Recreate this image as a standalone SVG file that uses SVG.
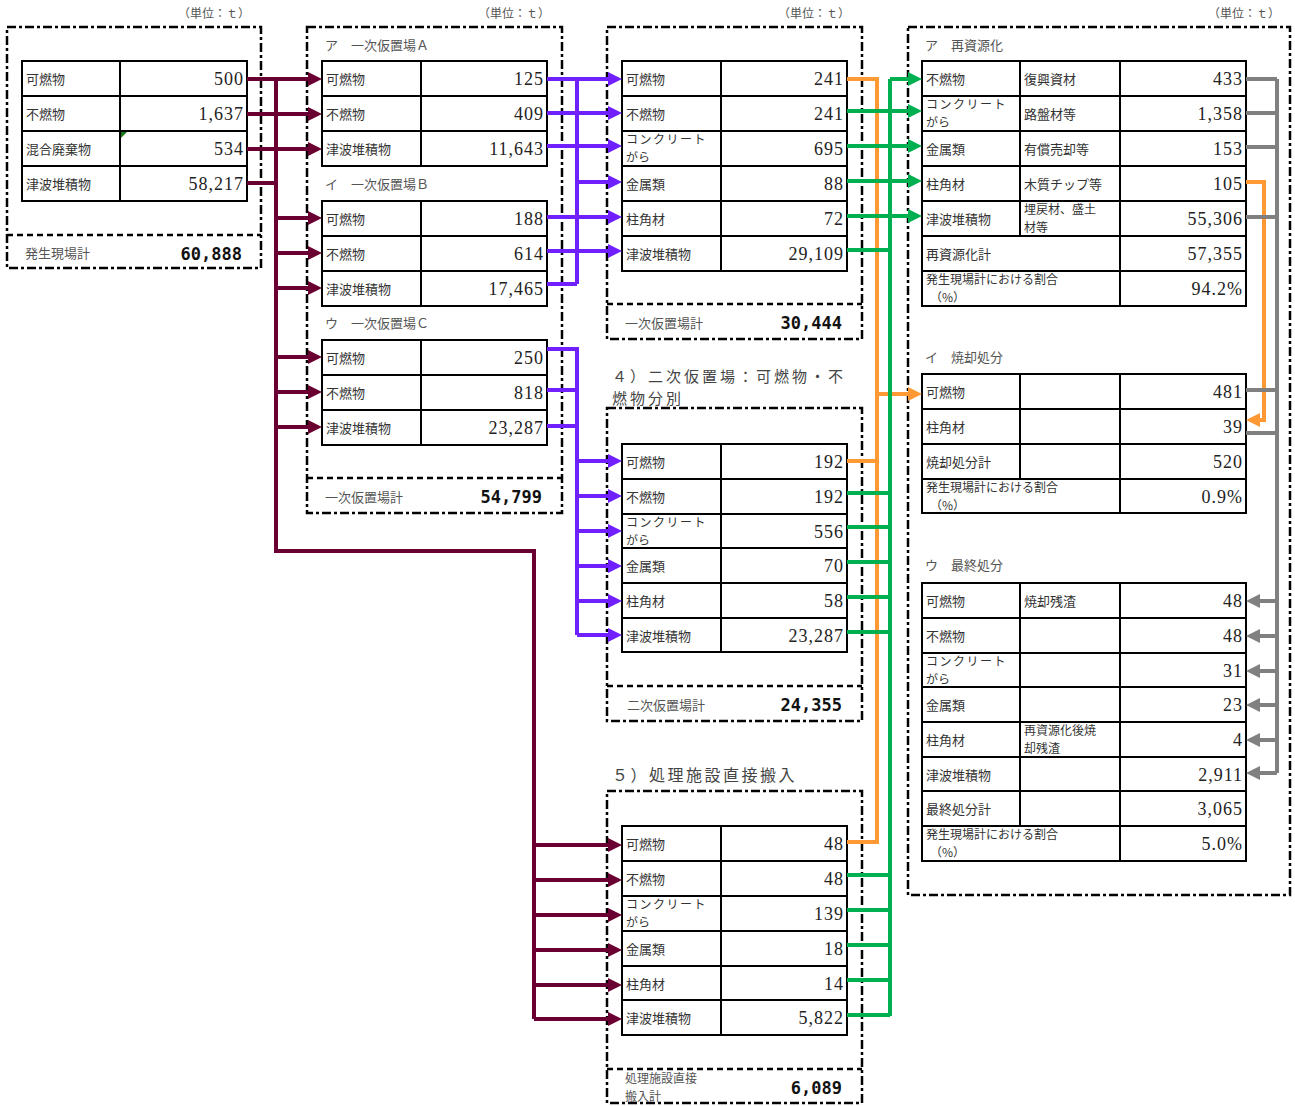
<svg xmlns="http://www.w3.org/2000/svg" width="1295" height="1106" viewBox="0 0 1295 1106">
<style>
.bg{fill:#fff}
.box{fill:none;stroke:#000;stroke-width:2.5;stroke-dasharray:9 3 3 3}
.sep{fill:none;stroke:#000;stroke-width:2.5;stroke-dasharray:6 4}
.t{fill:#fff;stroke:#000;stroke-width:2}
.g{fill:none;stroke:#000;stroke-width:2}
.lb{font-family:'Noto Sans CJK JP','Noto Sans',sans-serif;font-size:13px;fill:#333}
.l2{font-family:'Noto Sans CJK JP','Noto Sans',sans-serif;font-size:12px;fill:#333}
.sl{font-family:'Noto Sans CJK JP','Noto Sans',sans-serif;font-size:13px;fill:#555}
.s2{font-family:'Noto Sans CJK JP','Noto Sans',sans-serif;font-size:12px;fill:#555}
.hd{font-family:'Noto Sans CJK JP','Noto Sans',sans-serif;font-size:15px;fill:#444;letter-spacing:3px}
.h5{font-family:'Noto Sans CJK JP','Noto Sans',sans-serif;font-size:16px;fill:#444;letter-spacing:2.5px}
.un{font-family:'Noto Sans CJK JP','Noto Sans',sans-serif;font-size:12px;fill:#555;text-anchor:end}
.num{font-family:'Liberation Serif','DejaVu Serif',serif;font-size:18px;fill:#222;text-anchor:end;letter-spacing:1px}
.tot{font-family:'DejaVu Sans Mono','Liberation Mono',monospace;font-size:17px;font-weight:bold;fill:#111;text-anchor:end}
.cm{fill:none;stroke:#6A0032;stroke-width:4}
.cp{fill:none;stroke:#7020FF;stroke-width:4}
.co{fill:none;stroke:#FF9933;stroke-width:4}
.cg{fill:none;stroke:#00B050;stroke-width:4}
.cy{fill:none;stroke:#808080;stroke-width:4}
</style>
<defs>
<marker id="aM" markerUnits="userSpaceOnUse" markerWidth="14" markerHeight="14" refX="8" refY="7" orient="auto"><path d="M0,0 L14,7 L0,14 z" fill="#6A0032"/></marker>
<marker id="aP" markerUnits="userSpaceOnUse" markerWidth="14" markerHeight="14" refX="8" refY="7" orient="auto"><path d="M0,0 L14,7 L0,14 z" fill="#7020FF"/></marker>
<marker id="aO" markerUnits="userSpaceOnUse" markerWidth="14" markerHeight="14" refX="8" refY="7" orient="auto"><path d="M0,0 L14,7 L0,14 z" fill="#FF9933"/></marker>
<marker id="aG" markerUnits="userSpaceOnUse" markerWidth="14" markerHeight="14" refX="8" refY="7" orient="auto"><path d="M0,0 L14,7 L0,14 z" fill="#00B050"/></marker>
<marker id="aY" markerUnits="userSpaceOnUse" markerWidth="14" markerHeight="14" refX="8" refY="7" orient="auto"><path d="M0,0 L14,7 L0,14 z" fill="#808080"/></marker>
</defs>
<rect class="bg" x="0" y="0" width="1295" height="1106"/>

<g id="source">
<text class="un" x="250" y="18">（単位：ｔ）</text>
<rect class="box" x="7" y="27" width="254" height="241"/>
<path class="sep" d="M7,235H261"/>
<rect class="t" x="22" y="61" width="225" height="140"/>
<path class="g" d="M22,96H247M22,131H247M22,166H247M120,61V201"/>
<path d="M121,132 L127,132 L121,138 z" fill="#1a7a1a"/>
<text class="lb" x="26" y="84">可燃物</text><text class="num" x="244" y="85">500</text>
<text class="lb" x="26" y="119">不燃物</text><text class="num" x="244" y="120">1,637</text>
<text class="lb" x="26" y="154">混合廃棄物</text><text class="num" x="244" y="155">534</text>
<text class="lb" x="26" y="189">津波堆積物</text><text class="num" x="244" y="190">58,217</text>
<text class="sl" x="25" y="258">発生現場計</text><text class="tot" x="242" y="260">60,888</text>
</g>

<g id="primary">
<text class="un" x="550" y="18">（単位：ｔ）</text>
<rect class="box" x="307" y="27" width="255" height="486"/>
<path class="sep" d="M307,478H562"/>
<text class="sl" x="325" y="50">ア　一次仮置場Ａ</text>
<text class="sl" x="325" y="189">イ　一次仮置場Ｂ</text>
<text class="sl" x="325" y="328">ウ　一次仮置場Ｃ</text>
<text class="sl" x="325" y="502">一次仮置場計</text><text class="tot" x="542" y="503">54,799</text>
</g>
<g id="primaryA">
<rect class="t" x="322" y="61" width="225" height="105"/>
<path class="g" d="M322,96H547M322,131H547M421,61V166"/>
<text class="lb" x="326" y="84">可燃物</text><text class="num" x="544" y="85">125</text>
<text class="lb" x="326" y="119">不燃物</text><text class="num" x="544" y="120">409</text>
<text class="lb" x="326" y="154">津波堆積物</text><text class="num" x="544" y="155">11,643</text>
</g>
<g id="primaryB">
<rect class="t" x="322" y="201" width="225" height="105"/>
<path class="g" d="M322,236H547M322,271H547M421,201V306"/>
<text class="lb" x="326" y="224">可燃物</text><text class="num" x="544" y="225">188</text>
<text class="lb" x="326" y="259">不燃物</text><text class="num" x="544" y="260">614</text>
<text class="lb" x="326" y="294">津波堆積物</text><text class="num" x="544" y="295">17,465</text>
</g>
<g id="primaryC">
<rect class="t" x="322" y="340" width="225" height="105"/>
<path class="g" d="M322,375H547M322,410H547M421,340V445"/>
<text class="lb" x="326" y="363">可燃物</text><text class="num" x="544" y="364">250</text>
<text class="lb" x="326" y="398">不燃物</text><text class="num" x="544" y="399">818</text>
<text class="lb" x="326" y="433">津波堆積物</text><text class="num" x="544" y="434">23,287</text>
</g>

<g id="primaryOut">
<text class="un" x="850" y="18">（単位：ｔ）</text>
<rect class="box" x="607" y="27" width="255" height="312"/>
<path class="sep" d="M607,304H862"/>
<rect class="t" x="622" y="61" width="225" height="210"/>
<path class="g" d="M622,96H847M622,131H847M622,166H847M622,201H847M622,236H847M721,61V271"/>
<text class="lb" x="626" y="84">可燃物</text><text class="num" x="844" y="85">241</text>
<text class="lb" x="626" y="119">不燃物</text><text class="num" x="844" y="120">241</text>
<text class="l2"><tspan x="626" y="144" letter-spacing="1.5">コンクリート</tspan><tspan x="626" y="162">がら</tspan></text><text class="num" x="844" y="155">695</text>
<text class="lb" x="626" y="189">金属類</text><text class="num" x="844" y="190">88</text>
<text class="lb" x="626" y="224">柱角材</text><text class="num" x="844" y="225">72</text>
<text class="lb" x="626" y="259">津波堆積物</text><text class="num" x="844" y="260">29,109</text>
<text class="sl" x="625" y="328">一次仮置場計</text><text class="tot" x="842" y="329">30,444</text>
</g>

<g id="secondary">
<text class="hd"><tspan x="612" y="382">４）二次仮置場：可燃物・不</tspan><tspan x="612" y="404">燃物分別</tspan></text>
<rect class="box" x="607" y="408" width="255" height="313"/>
<path class="sep" d="M607,686H862"/>
<rect class="t" x="622" y="444" width="225" height="208"/>
<path class="g" d="M622,479H847M622,514H847M622,548H847M622,583H847M622,618H847M721,444V652"/>
<text class="lb" x="626" y="467">可燃物</text><text class="num" x="844" y="468">192</text>
<text class="lb" x="626" y="502">不燃物</text><text class="num" x="844" y="503">192</text>
<text class="l2"><tspan x="626" y="527" letter-spacing="1.5">コンクリート</tspan><tspan x="626" y="545">がら</tspan></text><text class="num" x="844" y="538">556</text>
<text class="lb" x="626" y="571">金属類</text><text class="num" x="844" y="572">70</text>
<text class="lb" x="626" y="606">柱角材</text><text class="num" x="844" y="607">58</text>
<text class="lb" x="626" y="641">津波堆積物</text><text class="num" x="844" y="642">23,287</text>
<text class="sl" x="627" y="710">二次仮置場計</text><text class="tot" x="842" y="711">24,355</text>
</g>

<g id="direct">
<text class="h5" x="612" y="781">５）処理施設直接搬入</text>
<rect class="box" x="607" y="791" width="255" height="312"/>
<path class="sep" d="M607,1069H862"/>
<rect class="t" x="622" y="826" width="225" height="209"/>
<path class="g" d="M622,861H847M622,896H847M622,931H847M622,966H847M622,1000H847M721,826V1035"/>
<text class="lb" x="626" y="849">可燃物</text><text class="num" x="844" y="850">48</text>
<text class="lb" x="626" y="884">不燃物</text><text class="num" x="844" y="885">48</text>
<text class="l2"><tspan x="626" y="909" letter-spacing="1.5">コンクリート</tspan><tspan x="626" y="927">がら</tspan></text><text class="num" x="844" y="920">139</text>
<text class="lb" x="626" y="954">金属類</text><text class="num" x="844" y="955">18</text>
<text class="lb" x="626" y="989">柱角材</text><text class="num" x="844" y="990">14</text>
<text class="lb" x="626" y="1023">津波堆積物</text><text class="num" x="844" y="1024">5,822</text>
<text class="s2"><tspan x="625" y="1083">処理施設直接</tspan><tspan x="625" y="1101">搬入計</tspan></text><text class="tot" x="842" y="1094">6,089</text>
</g>

<g id="treatment">
<text class="un" x="1280" y="18">（単位：ｔ）</text>
<rect class="box" x="908" y="27" width="382" height="868"/>
<text class="sl" x="925" y="50">ア　再資源化</text>
<text class="sl" x="925" y="362">イ　焼却処分</text>
<text class="sl" x="925" y="570">ウ　最終処分</text>
</g>
<g id="recycle">
<rect class="t" x="922" y="61" width="324" height="245"/>
<path class="g" d="M922,96H1246M922,131H1246M922,166H1246M922,201H1246M922,236H1246M922,271H1246M1020,61V236M1120,61V306"/>
<text class="lb" x="926" y="84">不燃物</text><text class="lb" x="1024" y="84">復興資材</text><text class="num" x="1243" y="85">433</text>
<text class="l2"><tspan x="926" y="109" letter-spacing="1.5">コンクリート</tspan><tspan x="926" y="127">がら</tspan></text><text class="lb" x="1024" y="119">路盤材等</text><text class="num" x="1243" y="120">1,358</text>
<text class="lb" x="926" y="154">金属類</text><text class="lb" x="1024" y="154">有償売却等</text><text class="num" x="1243" y="155">153</text>
<text class="lb" x="926" y="189">柱角材</text><text class="lb" x="1024" y="189">木質チップ等</text><text class="num" x="1243" y="190">105</text>
<text class="lb" x="926" y="224">津波堆積物</text><text class="l2"><tspan x="1024" y="214">埋戻材、盛土</tspan><tspan x="1024" y="232">材等</tspan></text><text class="num" x="1243" y="225">55,306</text>
<text class="lb" x="926" y="259">再資源化計</text><text class="num" x="1243" y="260">57,355</text>
<text class="l2"><tspan x="926" y="284">発生現場計における割合</tspan><tspan x="930" y="302">（%）</tspan></text><text class="num" x="1243" y="295">94.2%</text>
</g>
<g id="incineration">
<rect class="t" x="922" y="374" width="324" height="139"/>
<path class="g" d="M922,409H1246M922,444H1246M922,479H1246M1020,374V479M1120,374V513"/>
<text class="lb" x="926" y="397">可燃物</text><text class="num" x="1243" y="398">481</text>
<text class="lb" x="926" y="432">柱角材</text><text class="num" x="1243" y="433">39</text>
<text class="lb" x="926" y="467">焼却処分計</text><text class="num" x="1243" y="468">520</text>
<text class="l2"><tspan x="926" y="492">発生現場計における割合</tspan><tspan x="930" y="510">（%）</tspan></text><text class="num" x="1243" y="503">0.9%</text>
</g>
<g id="final">
<rect class="t" x="922" y="583" width="324" height="278"/>
<path class="g" d="M922,618H1246M922,653H1246M922,687H1246M922,722H1246M922,757H1246M922,791H1246M922,826H1246M1020,583V826M1120,583V861"/>
<text class="lb" x="926" y="606">可燃物</text><text class="lb" x="1024" y="606">焼却残渣</text><text class="num" x="1243" y="607">48</text>
<text class="lb" x="926" y="641">不燃物</text><text class="num" x="1243" y="642">48</text>
<text class="l2"><tspan x="926" y="666" letter-spacing="1.5">コンクリート</tspan><tspan x="926" y="684">がら</tspan></text><text class="num" x="1243" y="677">31</text>
<text class="lb" x="926" y="710">金属類</text><text class="num" x="1243" y="711">23</text>
<text class="lb" x="926" y="745">柱角材</text><text class="l2"><tspan x="1024" y="735">再資源化後焼</tspan><tspan x="1024" y="753">却残渣</tspan></text><text class="num" x="1243" y="746">4</text>
<text class="lb" x="926" y="780">津波堆積物</text><text class="num" x="1243" y="781">2,911</text>
<text class="lb" x="926" y="814">最終処分計</text><text class="num" x="1243" y="815">3,065</text>
<text class="l2"><tspan x="926" y="839">発生現場計における割合</tspan><tspan x="930" y="857">（%）</tspan></text><text class="num" x="1243" y="850">5.0%</text>
</g>

<g id="connectors">
<path class="cm" d="M247,183H276M276,79V551H534V1019"/>
<path class="cm" marker-end="url(#aM)" d="M247,79H316"/>
<path class="cm" marker-end="url(#aM)" d="M247,114H316"/>
<path class="cm" marker-end="url(#aM)" d="M247,149H316"/>
<path class="cm" marker-end="url(#aM)" d="M276,218H316"/>
<path class="cm" marker-end="url(#aM)" d="M276,253H316"/>
<path class="cm" marker-end="url(#aM)" d="M276,288H316"/>
<path class="cm" marker-end="url(#aM)" d="M276,357H316"/>
<path class="cm" marker-end="url(#aM)" d="M276,392H316"/>
<path class="cm" marker-end="url(#aM)" d="M276,427H316"/>
<path class="cm" marker-end="url(#aM)" d="M534,845H616"/>
<path class="cm" marker-end="url(#aM)" d="M534,880H616"/>
<path class="cm" marker-end="url(#aM)" d="M534,915H616"/>
<path class="cm" marker-end="url(#aM)" d="M534,950H616"/>
<path class="cm" marker-end="url(#aM)" d="M534,985H616"/>
<path class="cm" marker-end="url(#aM)" d="M534,1019H616"/>

<path class="cp" d="M547,284H577M577,79V284M547,349H577V635M547,390H577M547,426H577"/>
<path class="cp" marker-end="url(#aP)" d="M547,79H616"/>
<path class="cp" marker-end="url(#aP)" d="M547,113H616"/>
<path class="cp" marker-end="url(#aP)" d="M547,146H616"/>
<path class="cp" marker-end="url(#aP)" d="M577,182H616"/>
<path class="cp" marker-end="url(#aP)" d="M547,217H616"/>
<path class="cp" marker-end="url(#aP)" d="M547,251H616"/>
<path class="cp" marker-end="url(#aP)" d="M577,461H616"/>
<path class="cp" marker-end="url(#aP)" d="M577,496H616"/>
<path class="cp" marker-end="url(#aP)" d="M577,531H616"/>
<path class="cp" marker-end="url(#aP)" d="M577,566H616"/>
<path class="cp" marker-end="url(#aP)" d="M577,601H616"/>
<path class="cp" marker-end="url(#aP)" d="M577,635H616"/>

<path class="co" d="M847,79H877V842H847M847,461H877"/>
<path class="co" marker-end="url(#aO)" d="M877,394H916"/>
<path class="co" marker-end="url(#aO)" d="M1246,182H1264V420H1252"/>

<path class="cg" d="M890,79V1016M847,250H890M847,493H890M847,527H890M847,562H890M847,597H890M847,632H890M847,875H890M847,910H890M847,945H890M847,980H890M847,1015H890"/>
<path class="cg" marker-end="url(#aG)" d="M890,79H916"/>
<path class="cg" marker-end="url(#aG)" d="M847,111H916"/>
<path class="cg" marker-end="url(#aG)" d="M847,146H916"/>
<path class="cg" marker-end="url(#aG)" d="M847,181H916"/>
<path class="cg" marker-end="url(#aG)" d="M847,216H916"/>

<path class="cy" d="M1277,79V773M1246,79H1277M1246,113H1277M1246,147H1277M1246,217H1277M1246,390H1277M1246,433H1277"/>
<path class="cy" marker-end="url(#aY)" d="M1277,601H1252"/>
<path class="cy" marker-end="url(#aY)" d="M1277,636H1252"/>
<path class="cy" marker-end="url(#aY)" d="M1277,671H1252"/>
<path class="cy" marker-end="url(#aY)" d="M1277,705H1252"/>
<path class="cy" marker-end="url(#aY)" d="M1277,740H1252"/>
<path class="cy" marker-end="url(#aY)" d="M1277,773H1252"/>
</g>
</svg>
